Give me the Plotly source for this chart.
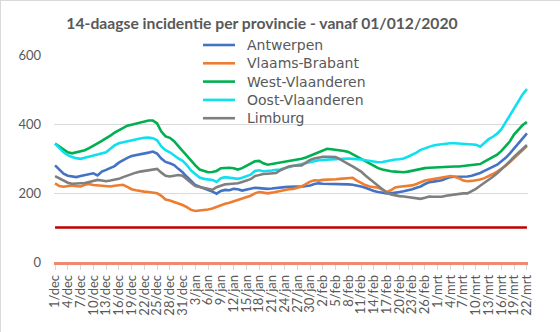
import plotly.graph_objects as go

# ---------------- data ----------------
MONTHS = [("dec", 31), ("jan", 31), ("feb", 28), ("mrt", 22)]
days = [f"{d}/{m}" for m, n in MONTHS for d in range(1, n + 1)]

antwerpen = [280, 268, 256, 250, 247, 246, 249, 251, 253, 257, 251, 262, 267, 272, 278, 288, 296, 302, 307, 309,
             311, 313, 317, 320, 314, 300, 290, 286, 281, 270, 260, 247, 234, 223, 218, 214, 210, 204, 198, 206,
             209, 208, 212, 211, 207, 210, 213, 215, 214, 212, 212, 213, 215, 215, 217, 218, 219, 219, 218, 219,
             222, 226, 228, 227, 227, 227, 227, 227, 226, 225, 224, 222, 219, 215, 210, 206, 203, 200, 199, 199,
             200, 203, 205, 207, 211, 215, 219, 226, 231, 233, 235, 237, 242, 246, 247, 247, 248, 248, 250, 253,
             258, 264, 270, 276, 282, 292, 302, 315, 330, 344, 358, 373]
vlaams_brabant = [228, 220, 218, 221, 222, 220, 219, 224, 226, 223, 222, 221, 220, 219, 221, 223, 224, 218, 211, 208,
                  205, 204, 203, 202, 199, 192, 181, 178, 174, 170, 165, 159, 151, 148, 149, 150, 152, 155, 160, 166,
                  169, 172, 176, 179, 184, 188, 192, 199, 203, 201, 199, 201, 204, 206, 208, 211, 212, 215, 219, 226,
                  233, 237, 236, 238, 238, 239, 240, 241, 242, 243, 244, 236, 229, 223, 219, 217, 215, 210, 203, 208,
                  216, 218, 219, 220, 222, 226, 232, 236, 238, 240, 242, 245, 248, 249, 247, 243, 236, 234, 235, 236,
                  239, 243, 248, 255, 262, 270, 279, 290, 301, 312, 324, 336]
west_vlaanderen = [343, 335, 325, 318, 315, 318, 322, 324, 330, 338, 344, 351, 358, 366, 375, 381, 389, 395, 398, 401,
                   403, 408, 410, 410, 402, 378, 364, 360, 350, 336, 322, 305, 292, 280, 268, 264, 260, 261, 264, 272,
                   273, 273, 272, 268, 272, 278, 284, 292, 293, 286, 282, 284, 286, 289, 291, 293, 294, 297, 299, 303,
                   308, 313, 319, 324, 328, 327, 326, 325, 322, 319, 312, 305, 300, 292, 284, 277, 272, 268, 265, 263,
                   262, 260, 260, 262, 265, 268, 271, 272, 273, 274, 274, 275, 275, 276, 277, 277, 278, 279, 280, 281,
                   284, 291, 298, 303, 311, 322, 336, 350, 370, 385, 397, 406]
oost_vlaanderen = [343, 330, 318, 310, 304, 301, 299, 302, 305, 308, 310, 313, 318, 328, 338, 344, 347, 350, 354, 357,
                   358, 360, 361, 359, 353, 335, 324, 318, 308, 300, 293, 281, 265, 254, 245, 241, 239, 238, 232, 243,
                   246, 245, 244, 241, 244, 248, 253, 264, 266, 263, 263, 265, 267, 268, 272, 276, 278, 281, 284, 287,
                   290, 293, 295, 296, 297, 298, 299, 299, 300, 300, 299, 299, 297, 295, 293, 291, 289, 290, 293, 295,
                   297, 298, 300, 305, 310, 317, 325, 330, 335, 338, 340, 342, 343, 344, 344, 343, 341, 340, 340, 340,
                   334, 346, 356, 363, 372, 385, 405, 424, 448, 468, 486, 501]
limburg = [249, 242, 236, 230, 227, 227, 227, 229, 232, 236, 238, 236, 234, 236, 238, 241, 246, 251, 256, 259,
           262, 264, 266, 268, 270, 259, 250, 248, 251, 252, 250, 241, 230, 220, 217, 215, 213, 209, 217, 221,
           225, 226, 227, 228, 232, 236, 240, 249, 253, 255, 256, 257, 258, 266, 272, 277, 279, 279, 280, 288,
           296, 300, 303, 305, 305, 305, 304, 298, 290, 284, 277, 270, 262, 251, 241, 232, 220, 210, 201, 196,
           193, 191, 190, 188, 186, 184, 183, 186, 190, 189, 188, 189, 192, 194, 196, 198, 199, 199, 205, 212,
           221, 229, 238, 247, 257, 268, 280, 292, 305, 317, 328, 339]

series_names = ["Antwerpen", "Vlaams-Brabant", "West-Vlaanderen", "Oost-Vlaanderen", "Limburg"]
series_values = [antwerpen, vlaams_brabant, west_vlaanderen, oost_vlaanderen, limburg]
series_colors = ["#4472C4", "#ED7D31", "#00B050", "#0FE0F0", "#7F7F7F"]
threshold = 100
tick_labels = days[::3]
title_text = "14-daagse incidentie per provincie - vanaf 01/012/2020"

# ---------------- layout geometry (pixels) ----------------
W, H = 560, 332
L, R, T, B = 54, 32, 55, 70
PW, PH = W - L - R, H - T - B


def px_x(px):
    return (px - L) / PW


def px_y(py):
    return (H - B - py) / PH


TXT = "#595959"
FONT = "Lato"
LEG_FONT = "DejaVu Sans"

fig = go.Figure()
for name, vals, col in zip(series_names, series_values, series_colors):
    fig.add_trace(go.Scatter(x=days, y=vals, mode="lines", name=name,
                             line=dict(color=col, width=2.6), showlegend=False))

shapes = [
    dict(type="line", xref="x", yref="y", x0=days[0], x1=days[-1], y0=threshold, y1=threshold,
         line=dict(color="#C00000", width=2.5), layer="above"),
    dict(type="line", xref="paper", yref="paper", x0=px_x(0.5), x1=px_x(0.5), y0=px_y(0), y1=px_y(H),
         line=dict(color="#D9D9D9", width=1)),
    dict(type="line", xref="paper", yref="paper", x0=px_x(0), x1=px_x(W), y0=px_y(0.5), y1=px_y(0.5),
         line=dict(color="#D9D9D9", width=1)),
]
annotations = []
# legend (drawn manually to match the compact spacing of the original)
leg_y0, leg_dy = 45, 18.3
for i, (name, col) in enumerate(zip(series_names, series_colors)):
    yy = px_y(leg_y0 + i * leg_dy)
    shapes.append(dict(type="line", xref="paper", yref="paper", x0=px_x(203), x1=px_x(235), y0=yy, y1=yy,
                       line=dict(color=col, width=2.6)))
    annotations.append(dict(xref="paper", yref="paper", x=px_x(246), y=yy, text=name, showarrow=False,
                            xanchor="left", yanchor="middle", borderpad=0,
                            font=dict(family=LEG_FONT, size=14, color=TXT)))

fig.update_layout(
    width=W, height=H,
    margin=dict(l=L, r=R, t=T, b=B, pad=0),
    paper_bgcolor="white", plot_bgcolor="white",
    title=dict(text="<b>" + title_text + "</b>", x=262 / W, xref="container", xanchor="center",
               y=1 - 24 / H, yref="container", yanchor="middle",
               font=dict(family=FONT, size=15.7, color=TXT)),
    showlegend=False,
    shapes=shapes,
    annotations=annotations,
    xaxis=dict(type="category", range=[-0.25, len(days) - 0.75], tickmode="array",
               tickvals=tick_labels, ticktext=tick_labels, tickangle=-90,
               tickfont=dict(family=FONT, size=13, color=TXT),
               showgrid=False, zeroline=False,
               showline=True, linecolor="#EE8A72", linewidth=2.5,
               ticks="outside", ticklen=5, tickcolor="#D9D9D9", tickwidth=1),
    yaxis=dict(range=[0, 600], dtick=200, tick0=0,
               tickfont=dict(family=FONT, size=13, color=TXT),
               showgrid=True, gridcolor="#D9D9D9", gridwidth=1, zeroline=False,
               showline=False, ticks="", ticklabelstandoff=12),
)

fig.write_html("out.html")
